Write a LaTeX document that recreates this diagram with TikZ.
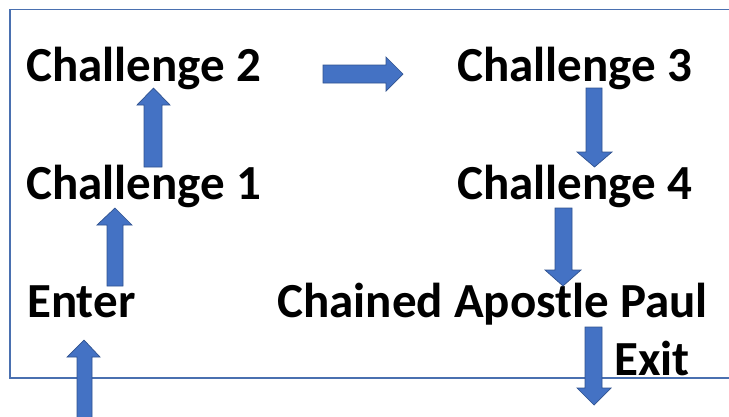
\documentclass[tikz,border=0pt]{standalone}
\usepackage{fontspec}
\setmainfont{Carlito}
\definecolor{afill}{HTML}{4472C4}
\definecolor{aline}{HTML}{2F528F}
\definecolor{frame}{HTML}{4A70B0}
\begin{document}
\begin{tikzpicture}[x=1pt,y=-1pt,
  lbl/.style={anchor=base west,inner sep=0pt,font=\fontsize{49}{57}\selectfont\bfseries},
  blockarrow/.style={fill=afill,draw=aline,line width=0.7pt,line join=miter}]
\useasboundingbox (0,0) rectangle (729,416);
\clip (0,0) rectangle (729,416);
\draw[frame,line width=1.6pt] (740,9.3) -- (10,9.3) -- (10,377.7) -- (740,377.7);
% texts
\node[lbl] (c2) at (26,81) {Challenge 2};
\node[lbl] (c1) at (26,199) {Challenge 1};
\node[lbl] (en) at (27,317) {Enter};
\node[lbl] (c3) at (457,81) {Challenge 3};
\node[lbl] (c4) at (457,199) {Challenge 4};
\node[lbl] (pl) at (277,317) {Chained Apostle Paul};
\node[lbl] (ex) at (614,375) {Exit};
% up arrows
\draw[blockarrow] (144,167) -- (144,105) -- (137,105) -- (153.5,88) -- (170,105) -- (162,105) -- (162,167) -- cycle;
\draw[blockarrow] (107,286) -- (107,225) -- (97,225) -- (115,208) -- (132,225) -- (123,225) -- (123,286) -- cycle;
\draw[blockarrow] (77,430) -- (77,357) -- (67,357) -- (84,340) -- (100,357) -- (92,357) -- (92,430) -- cycle;
% right arrow
\draw[blockarrow] (323,65) -- (386,65) -- (386,57) -- (403,74) -- (386,91) -- (386,83) -- (323,83) -- cycle;
% down arrows
\draw[blockarrow] (586,88) -- (586,152) -- (577,152) -- (594.5,167) -- (612,152) -- (602,152) -- (602,88) -- cycle;
\draw[blockarrow] (555,208) -- (555,270) -- (545,270) -- (563,286) -- (581,270) -- (572,270) -- (572,208) -- cycle;
\draw[blockarrow] (585,327) -- (585,388) -- (577,388) -- (594,405) -- (611,388) -- (602,388) -- (602,327) -- cycle;
\end{tikzpicture}
\end{document}
